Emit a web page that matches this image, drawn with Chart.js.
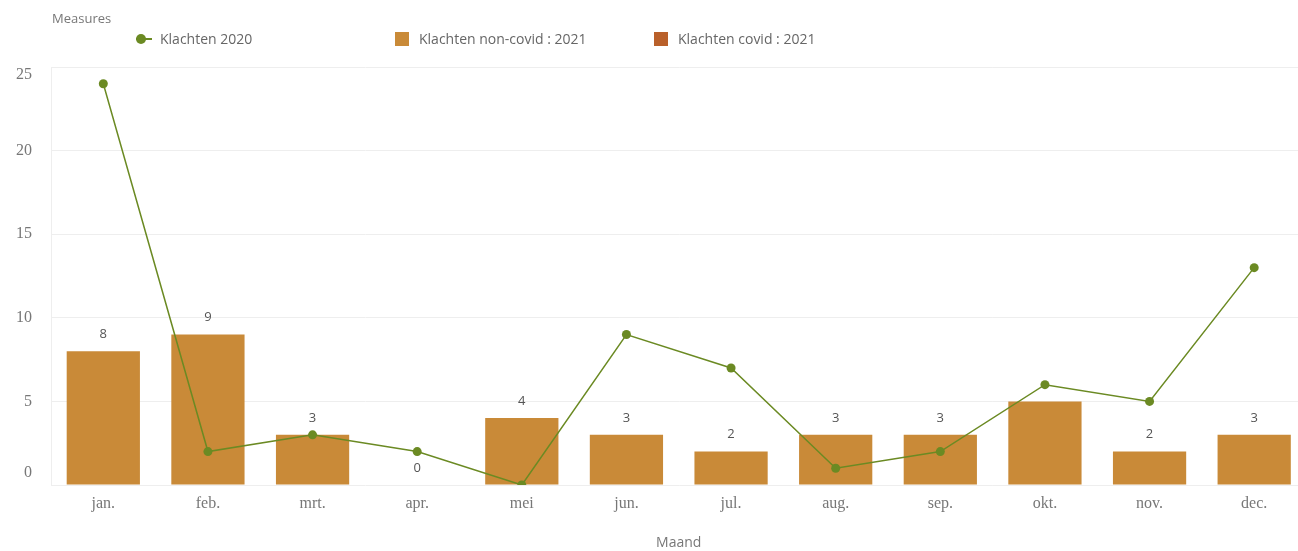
<!DOCTYPE html>
<html>
<head>
<meta charset="utf-8">
<script src="https://cdn.jsdelivr.net/npm/chart.js@4/dist/chart.umd.min.js"></script>
<style>
  html, body { margin: 0; padding: 0; background: #fff; }
  #wrap { position: relative; width: 1298px; height: 551px; overflow: hidden; }
  #chart { position: absolute; left: 0; top: 0; }
  .legend { position: absolute; font-family: "Open Sans", "DejaVu Sans", sans-serif; color: #666; font-size: 14px; }
  .ltitle { left: 52px; top: 9px; font-size: 13px; color: #777; }
  .item { top: 29px; display: flex; align-items: center; white-space: nowrap; }
  .sw { width: 14px; height: 14px; margin-right: 10px; }
  .dotline { position: relative; width: 16px; height: 14px; margin-right: 8px; }
  .dotline::before { content: ""; position: absolute; left: 0; right: 0; top: 6px; height: 2px; background: #6b8a23; }
  .dotline::after { content: ""; position: absolute; left: 0; top: 2px; width: 10px; height: 10px; border-radius: 50%; background: #6b8a23; }
</style>
</head>
<body>
<div id="wrap">
  <canvas id="chart" width="1311" height="551"></canvas>
  <div class="legend ltitle">Measures</div>
  <div class="legend item" style="left:136px"><span class="dotline"></span>Klachten 2020</div>
  <div class="legend item" style="left:395px"><span class="sw" style="background:#c98a38"></span>Klachten non-covid : 2021</div>
  <div class="legend item" style="left:654px"><span class="sw" style="background:#b9602a"></span>Klachten covid : 2021</div>
</div>
<script>
// Months on the category axis
const months = ['jan.', 'feb.', 'mrt.', 'apr.', 'mei', 'jun.', 'jul.', 'aug.', 'sep.', 'okt.', 'nov.', 'dec.'];
// Complaints 2020 (line)
const klachten2020 = [24, 2, 3, 2, 0, 9, 7, 1, 2, 6, 5, 13];
// Non-covid complaints 2021 (bars)
const nonCovid2021 = [8, 9, 3, 0, 4, 3, 2, 3, 3, 5, 2, 3];
// Covid complaints 2021 (bars)
const covid2021 = [0, 0, 0, 0, 0, 0, 0, 0, 0, 0, 0, 0];
// Y axis ticks
const yTicks = [0, 5, 10, 15, 20, 25];
// Value labels hidden where they collide with a line point
const hiddenLabels = ['okt.'];

const barColor = '#c98a38';
const covidColor = '#b9602a';
const lineColor = '#6b8a23';

// Draws the value above each non-covid bar
const barLabels = {
  id: 'barLabels',
  afterDatasetsDraw(chart) {
    const ctx = chart.ctx;
    const meta = chart.getDatasetMeta(1);
    ctx.save();
    ctx.font = '13px "Open Sans", "DejaVu Sans", sans-serif';
    ctx.fillStyle = '#555';
    ctx.textAlign = 'center';
    ctx.textBaseline = 'middle';
    meta.data.forEach((bar, i) => {
      if (hiddenLabels.includes(months[i])) return;
      ctx.fillText(String(nonCovid2021[i]), bar.x, bar.y - 17);
    });
    ctx.restore();
  }
};

// Y axis labels, kept inside the plot's height at the two ends
const yLabels = {
  id: 'yLabels',
  afterDraw(chart) {
    const ctx = chart.ctx;
    const y = chart.scales.y;
    const area = chart.chartArea;
    ctx.save();
    ctx.font = '16px "Liberation Serif", "DejaVu Serif", serif';
    ctx.fillStyle = '#777';
    ctx.textAlign = 'right';
    ctx.textBaseline = 'middle';
    yTicks.forEach(v => {
      let py = y.getPixelForValue(v);
      py = Math.min(Math.max(py, area.top + 8), area.bottom - 12);
      ctx.fillText(String(v), 32, py);
    });
    ctx.restore();
  }
};

new Chart(document.getElementById('chart'), {
  data: {
    labels: months,
    datasets: [
      {
        type: 'line',
        label: 'Klachten 2020',
        data: klachten2020,
        borderColor: lineColor,
        backgroundColor: lineColor,
        borderWidth: 1.5,
        pointRadius: 4.5,
        pointHoverRadius: 4.5,
        pointBorderWidth: 0,
        tension: 0,
        order: 0
      },
      {
        type: 'bar',
        label: 'Klachten non-covid : 2021',
        data: nonCovid2021,
        backgroundColor: barColor,
        grouped: false,
        categoryPercentage: 1,
        barPercentage: 0.7,
        order: 1
      },
      {
        type: 'bar',
        label: 'Klachten covid : 2021',
        data: covid2021,
        backgroundColor: covidColor,
        grouped: false,
        categoryPercentage: 1,
        barPercentage: 0.7,
        order: 2
      }
    ]
  },
  options: {
    responsive: false,
    animation: false,
    layout: { padding: { top: 67, right: 1, left: 0, bottom: 0 } },
    plugins: {
      legend: { display: false },
      tooltip: { enabled: false }
    },
    scales: {
      x: {
        grid: { display: false },
        border: { display: false },
        ticks: {
          color: '#777',
          font: { family: '"Liberation Serif", "DejaVu Serif", serif', size: 16 },
          padding: 1,
          maxRotation: 0
        },
        title: {
          display: true,
          text: 'Maand',
          color: '#777',
          font: { family: '"Open Sans", "DejaVu Sans", sans-serif', size: 14 },
          padding: { top: 22, bottom: 0 }
        },
        afterFit(scale) { scale.height = 66; }
      },
      y: {
        min: 0,
        max: 25,
        afterBuildTicks(scale) { scale.ticks = yTicks.map(v => ({ value: v })); },
        grid: { color: '#eeeeee', lineWidth: 1, drawTicks: false },
        border: { display: true, color: '#eeeeee' },
        ticks: { display: false },
        afterFit(scale) { scale.width = 51; }
      }
    }
  },
  plugins: [barLabels, yLabels]
});
</script>
</body>
</html>
